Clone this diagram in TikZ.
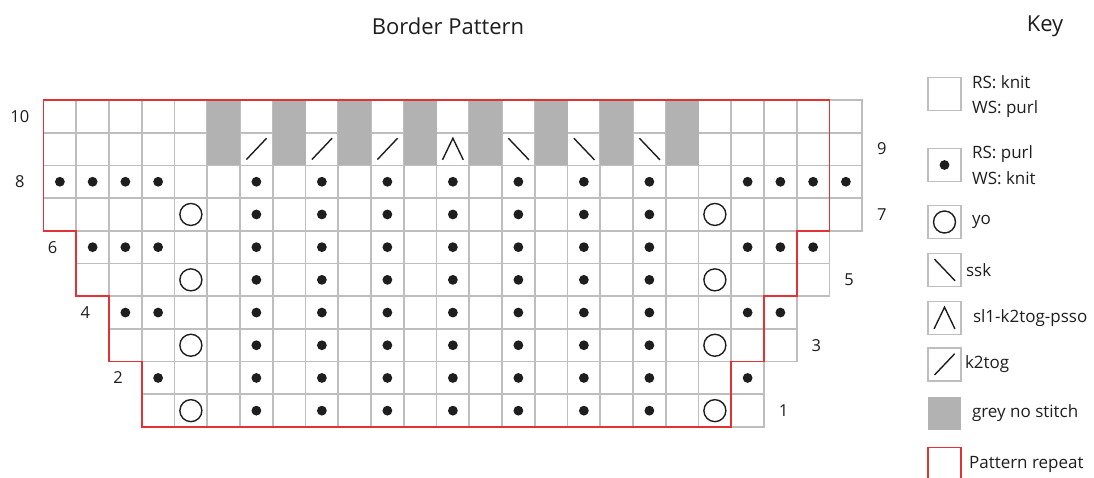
\documentclass[tikz,border=0pt]{standalone}
\usepackage{fontspec}
\setmainfont{Open Sans}
\definecolor{rptred}{RGB}{226,50,52}
\definecolor{gridline}{RGB}{190,190,190}
\definecolor{nostitch}{RGB}{178,178,178}
\definecolor{ink}{RGB}{30,30,30}
\usetikzlibrary{positioning}

\tikzset{
  cell/.style={draw=gridline,line width=1.7pt},
  rptline/.style={draw=rptred,line width=1.6pt},
  keybox/.style={draw=gridline,line width=1.7pt,minimum size=33pt,inner sep=0pt},
  keytext/.style={inner sep=1pt,anchor=west},
  pics/purl/.style={code={\fill[ink] (0,0) circle[radius=4.9pt];}},
  pics/yo/.style={code={\draw[ink,line width=1.4pt] (0,0) circle[radius=11pt];}},
  pics/ktog/.style={code={\draw[ink,line width=1.4pt] (-10pt,-10.5pt) -- (10.2pt,10.8pt);}},
  pics/ssk/.style={code={\draw[ink,line width=1.4pt] (-10pt,10.8pt) -- (10.6pt,-10.8pt);}},
  pics/skp/.style={code={\draw[ink,line width=1.4pt] (-10.4pt,-10.8pt) -- (0,10.8pt) -- (10.4pt,-10.8pt);}},
}

\begin{document}
\begin{tikzpicture}[x=1pt,y=-1pt,text=ink,font=\fontsize{16.5}{19}\selectfont]
  \useasboundingbox (0,0) rectangle (1094,477);
  \node (title) at (448,26) {\fontsize{22}{25}\selectfont Border Pattern};
  \node (keyhead) at (1045,26) {\fontsize{22}{25}\selectfont Key};

  % chart: one unit per stitch, row 1 at the bottom
  \begin{scope}[shift={(43.5,427)},x=32.75pt,y=32.7pt]
    \foreach \r/\lo/\hi in {1/4/22,2/4/22,3/3/23,4/3/23,5/2/24,6/2/24,7/1/25,8/1/25,9/1/25,10/1/25}
      \foreach \c in {\lo,...,\hi}
        \draw[cell] (\c-1,\r-1) rectangle (\c,\r);
    \foreach \c in {6,8,...,20}
      \fill[nostitch] (\c-1,8) rectangle (\c,10);

    \foreach \r in {1,...,8}
      \foreach \c in {7,9,...,19}
        \pic at (\c-0.5,\r-0.5) {purl};
    \foreach \r/\lo/\hi in {2/4/22,4/3/23,6/2/24,8/1/25}{
      \foreach \c in {\lo,...,4}
        \pic at (\c-0.5,\r-0.5) {purl};
      \foreach \c in {22,...,\hi}
        \pic at (\c-0.5,\r-0.5) {purl};
    }
    \foreach \r in {1,3,5,7}
      \foreach \c in {5,21}
        \pic at (\c-0.5,\r-0.5) {yo};
    \foreach \c in {7,9,11}
      \pic at (\c-0.5,8.5) {ktog};
    \pic at (12.5,8.5) {skp};
    \foreach \c in {15,17,19}
      \pic at (\c-0.5,8.5) {ssk};

    \draw[rptline] (0,10) -- (24,10) -- (24,6) -- (23,6) -- (23,4) -- (22,4) -- (22,2)
      -- (21,2) -- (21,0) -- (3,0) -- (3,2) -- (2,2) -- (2,4) -- (1,4) -- (1,6) -- (0,6) -- cycle;

    % row numbers
    \foreach \r/\lo in {2/4,4/3,6/2,8/1,10/1}
      \node (row\r) at (\lo-1.72,\r-0.5) {\r};
    \foreach \r/\hi in {1/22,3/23,5/24,7/25,9/25}
      \node (row\r) at (\hi+0.6,\r-0.5) {\r};
  \end{scope}

  % key
  \node[keybox] (kknit) at (944.5,94) {};
  \node[keytext,align=left,font=\fontsize{17}{25}\selectfont,right=9pt of kknit,yshift=-2.5pt] (tknit) {RS: knit\\WS: purl};
  \node[keybox] (kpurl) at (944.5,165) {};
  \pic at (kpurl) {purl};
  \node[keytext,align=left,font=\fontsize{17}{26}\selectfont,right=9pt of kpurl] (tpurl) {RS: purl\\WS: knit};
  \node[keybox] (kyo) at (944.5,222) {};
  \pic at (kyo) {yo};
  \node[keytext,font=\fontsize{17}{20}\selectfont,right=9pt of kyo] (tyo) {yo};
  \node[keybox] (kssk) at (944.5,270) {};
  \pic at (kssk) {ssk};
  \node[keytext,font=\fontsize{17}{20}\selectfont,right=3pt of kssk] (tssk) {ssk};
  \node[keybox] (kskp) at (944.5,318) {};
  \pic at (kskp) {skp};
  \node[keytext,font=\fontsize{17}{20}\selectfont,right=10pt of kskp] (tskp) {sl1-k2tog-psso};
  \node[keybox] (ktog) at (944.5,364.5) {};
  \pic at (ktog) {ktog};
  \node[keytext,font=\fontsize{17}{20}\selectfont,right=2pt of ktog] (ttog) {k2tog};
  \node[keybox,draw=none,fill=nostitch] (kgrey) at (944.5,413.5) {};
  \node[keytext,font=\fontsize{17}{20}\selectfont,right=9pt of kgrey] (tgrey) {grey no stitch};
  \node[keybox,draw=rptred] (krpt) at (944.5,464) {};
  \node[keytext,font=\fontsize{17}{20}\selectfont,right=6pt of krpt] (trpt) {Pattern repeat};
\end{tikzpicture}
\end{document}
